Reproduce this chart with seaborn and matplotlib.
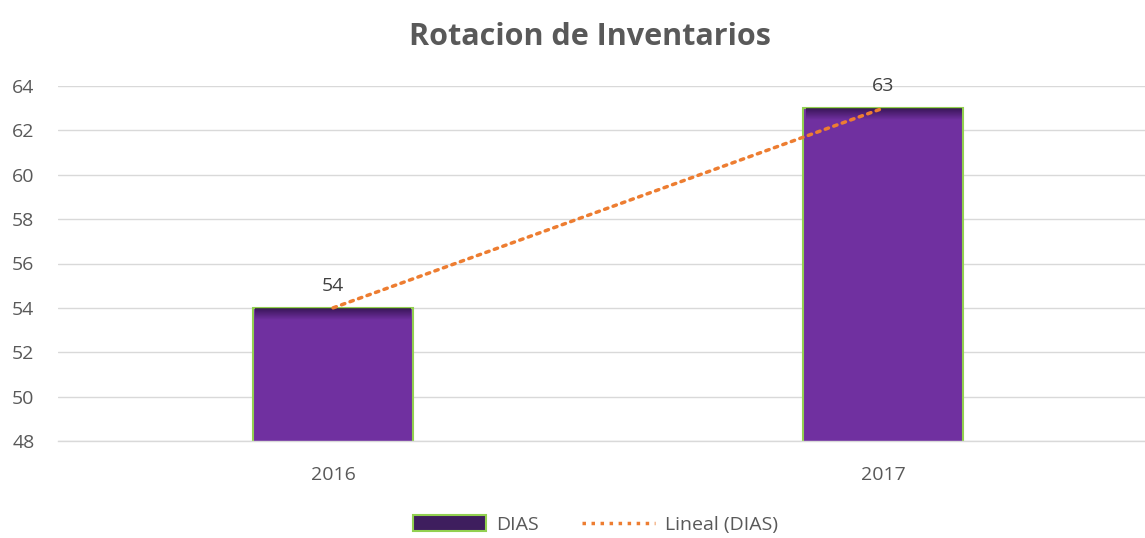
import numpy as np
import pandas as pd
import matplotlib
matplotlib.use("Agg")
import matplotlib.pyplot as plt
import seaborn as sns
from matplotlib.patches import Patch
from matplotlib.lines import Line2D
from matplotlib.colors import LinearSegmentedColormap

years = ["2016", "2017"]
dias = [54, 63]
y_ticks = [48, 50, 52, 54, 56, 58, 60, 62, 64]

sns.set_style("white")
plt.rcParams["font.family"] = ["Open Sans", "DejaVu Sans"]

text_col = "#595959"
bar_col = "#7030A0"
edge_col = "#92D050"
trend_col = "#ED7D31"

df = pd.DataFrame({"year": years, "dias": dias})

fig = plt.figure(figsize=(11.45, 5.38), dpi=100)
ax = fig.add_axes([58 / 1145, 1 - 441 / 538, 1 - 58 / 1145, (441 - 86) / 538])

sns.barplot(data=df, x="year", y="dias", color=bar_col, saturation=1,
            width=0.29, edgecolor=edge_col, linewidth=1.5, ax=ax, zorder=2)

ax.set_ylim(48, 64)
ax.set_xlim(-0.5, 1.476)
ax.set_yticks(y_ticks)

# dark gradient band along the top of each bar
shade = LinearSegmentedColormap.from_list("shade", [(0.15, 0.05, 0.25, 0.0), (0.15, 0.05, 0.25, 0.75)])
grad = np.linspace(0, 1, 50).reshape(-1, 1)
for p in ax.patches:
    x0 = p.get_x()
    x1 = x0 + p.get_width()
    top = p.get_height()
    ax.imshow(grad, extent=(x0 + 0.004, x1 - 0.004, top - 0.55, top - 0.05), origin="lower",
              cmap=shade, aspect="auto", zorder=3)
    ax.text(x0 + p.get_width() / 2, top + 0.6, f"{int(top)}", ha="center", va="bottom",
            fontsize=14, color="#404040", zorder=5)

# linear trendline
xs = np.arange(len(dias))
coef = np.polyfit(xs, dias, 1)
ax.plot(xs, np.polyval(coef, xs), color=trend_col, linestyle=(0, (1, 1.6)), lw=2.5,
        zorder=4, dash_capstyle="round")

ax.grid(axis="y", color="#D9D9D9", lw=1, zorder=0)
ax.set_axisbelow(True)
for s in ax.spines.values():
    s.set_visible(False)
ax.spines["bottom"].set_visible(True)
ax.spines["bottom"].set_color("#D9D9D9")
ax.spines["bottom"].set_linewidth(1)
ax.tick_params(axis="both", length=0, labelsize=14, labelcolor=text_col)
ax.tick_params(axis="x", pad=18)
ax.tick_params(axis="y", pad=17)
ax.set_xlabel("")
ax.set_ylabel("")

fig.text(0.515, 0.932, "Rotacion de Inventarios", ha="center", va="center",
         fontsize=22, fontweight="bold", color=text_col)

handles = [
    Patch(facecolor="#3E1E5E", edgecolor=edge_col, linewidth=1.5, label="DIAS"),
    Line2D([0], [0], color=trend_col, linestyle=(0, (1, 1.6)), lw=2.5, label="Lineal (DIAS)"),
]
fig.legend(handles=handles, loc="center", bbox_to_anchor=(0.52, 0.025), ncol=2,
           frameon=False, fontsize=14, labelcolor=text_col, handlelength=3.8,
           handleheight=0.9, handletextpad=0.5, columnspacing=2.2)

fig.savefig("out.png", dpi=100)
